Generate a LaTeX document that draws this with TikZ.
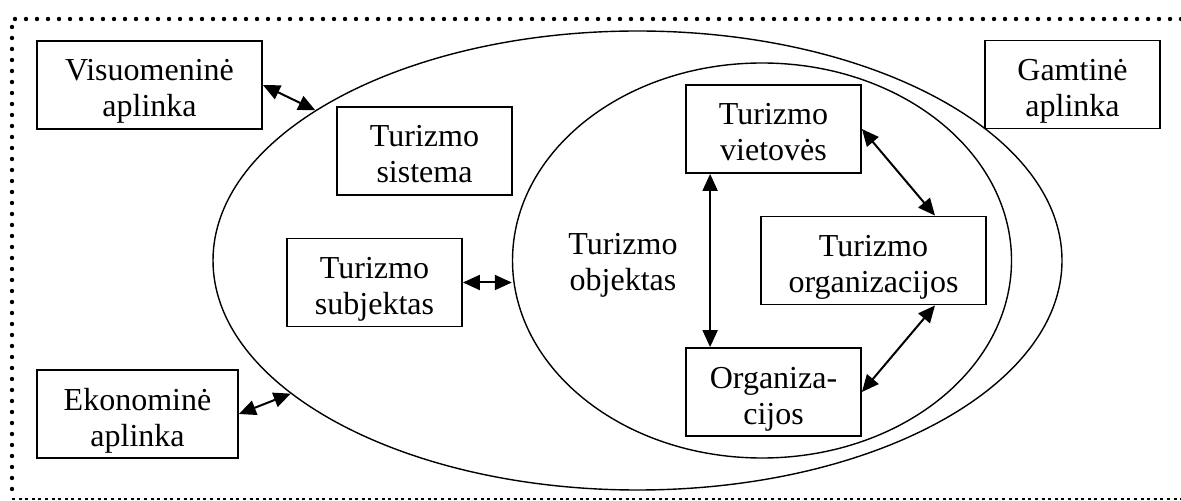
\documentclass[tikz,border=0pt]{standalone}
\usepackage{fontspec}
\setmainfont{Liberation Serif}
\usetikzlibrary{shapes.geometric, arrows.meta}

\newcommand{\twolines}[2]{\rule{0pt}{19.4pt}#1\\#2\rule[-5.4pt]{0pt}{5.4pt}}

\begin{document}
\begin{tikzpicture}[x=0.5pt, y=-0.5pt,
  box/.style={draw=black, line width=0.9pt, inner sep=0pt, minimum height=44pt, align=center, font=\fontsize{16}{18}\selectfont},
  ring/.style={draw=black, ellipse, line width=0.7pt, inner sep=0pt},
  link/.style={{Triangle[length=8.5pt,width=7.5pt]}-{Triangle[length=8.5pt,width=7.5pt]}, line width=1pt}]
\color{black}
\useasboundingbox (0,0) rectangle (1181,501);

% frame
\draw [line width=2.2pt, line cap=round, dash pattern=on 0pt off 5.5pt] (1181,19) -- (12,19) -- (12,499);
\draw [line width=1pt, dash pattern=on 1.5pt off 1.8pt] (12,499) -- (1181,499);

\node[ring, minimum width=424.5pt, minimum height=229.5pt] (outer) at (637.5,260.5) {};
\node[ring, minimum width=249.5pt, minimum height=197.5pt] (inner) at (762,260.5) {};

\node[box, minimum width=112.5pt] (visu) at (149.5,85) {\twolines{Visuomeninė}{aplinka}};
\node[box, minimum width=87.5pt] (gamt) at (1072.5,84.5) {\twolines{Gamtinė}{aplinka}};
\node[box, minimum width=100.5pt] (ekon) at (137.5,414) {\twolines{Ekonominė}{aplinka}};
\node[box, minimum width=87.5pt] (sist) at (424.5,151) {\twolines{Turizmo}{sistema}};
\node[box, minimum width=87.5pt] (subj) at (374.5,282.5) {\twolines{Turizmo}{subjektas}};
\node[box, draw=none] (obj) at (623,259) {\twolines{Turizmo}{objektas}};
\node[box, minimum width=87.5pt] (viet) at (773.5,129) {\twolines{Turizmo}{vietovės}};
\node[box, minimum width=112.5pt] (torg) at (873.5,260.5) {\twolines{Turizmo}{organizacijos}};
\node[box, minimum width=87.5pt] (orgz) at (773.5,392) {\twolines{Organiza-}{cijos}};

\draw [link] (visu.east) -- (outer.155);
\draw [link] (ekon.east) -- (outer.201);
\draw [link] (subj.east) -- (subj.east -| inner.west);
\draw [link] ([xshift=12.5pt]viet.south west) -- ([xshift=12.5pt]orgz.north west);
\draw [link] (viet.east) -- ([xshift=30.75pt]torg.north);
\draw [link] ([xshift=30.75pt]torg.south) -- (orgz.east);
\end{tikzpicture}
\end{document}
